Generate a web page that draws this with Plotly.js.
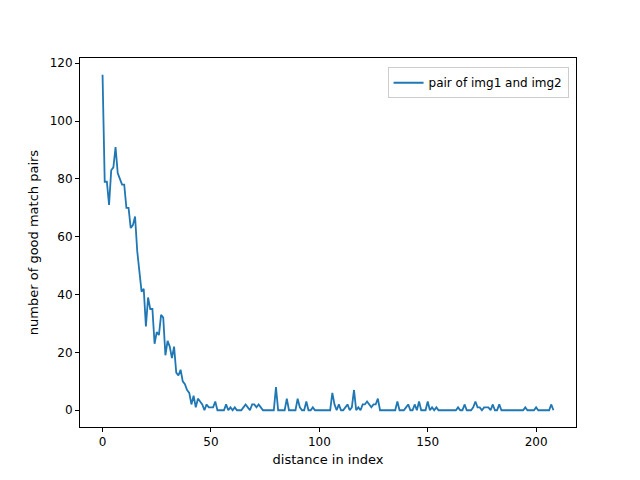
<!DOCTYPE html>
<html>
<head>
<meta charset="utf-8">
<script src="https://cdn.plot.ly/plotly-3.0.1.min.js"></script>
<style>body{margin:0}#plot{width:640px;height:480px}</style>
</head>
<body>
<div id="plot"></div>
<script>
// number of good matches at each index distance
const goodMatches = [
  116, 79, 79, 71, 83, 84, 91, 82, 80, 78,
  78, 70, 70, 63, 64, 67, 55, 48, 41, 42,
  29, 39, 35, 35, 23, 27, 26, 33, 32, 19,
  24, 22, 18, 22, 13, 12, 14, 10, 9, 7,
  6, 2, 5, 1, 4, 3, 2, 0, 2, 1,
  1, 1, 3, 0, 0, 0, 0, 2, 0, 1,
  0, 1, 0, 0, 0, 1, 2, 1, 0, 2,
  2, 1, 2, 1, 0, 0, 0, 0, 0, 0,
  8, 0, 0, 0, 0, 4, 0, 0, 0, 0,
  4, 1, 0, 0, 3, 0, 0, 1, 0, 0,
  0, 0, 0, 0, 0, 0, 6, 2, 0, 2,
  0, 0, 1, 2, 0, 1, 7, 0, 1, 0,
  2, 2, 3, 2, 1, 2, 2, 4, 0, 0,
  0, 0, 0, 0, 0, 0, 3, 0, 0, 0,
  1, 2, 0, 0, 2, 0, 3, 0, 0, 0,
  3, 0, 1, 0, 1, 0, 0, 0, 0, 0,
  0, 0, 0, 0, 1, 0, 0, 2, 0, 0,
  0, 1, 3, 1, 1, 0, 1, 1, 1, 0,
  2, 0, 0, 2, 0, 0, 0, 0, 0, 0,
  0, 0, 0, 0, 0, 1, 0, 0, 0, 0,
  1, 0, 0, 0, 0, 0, 0, 2, 0
];
const distance = goodMatches.map((_, i) => i);
const seriesName = 'pair of img1 and img2';

const axisStyle = {
  showgrid: false, zeroline: false, showline: true, mirror: true,
  linecolor: 'black', linewidth: 1, ticks: 'outside', ticklen: 4,
  tickcolor: 'black', tickfont: {size: 12, color: 'black'}
};

Plotly.newPlot('plot', [{
  x: distance,
  y: goodMatches,
  type: 'scatter',
  mode: 'lines',
  name: seriesName,
  line: {color: '#1f77b4', width: 1.8}
}], {
  width: 640, height: 480,
  margin: {l: 80, r: 64, t: 58, b: 53},
  paper_bgcolor: 'white', plot_bgcolor: 'white',
  font: {family: 'DejaVu Sans', color: 'black'},
  showlegend: true,
  legend: {x: 0.985, y: 0.975, xanchor: 'right', yanchor: 'top',
    bordercolor: '#cccccc', borderwidth: 1, font: {size: 12}},
  xaxis: Object.assign({}, axisStyle, {
    range: [-10.4, 218.4], tickvals: [0, 50, 100, 150, 200],
    title: {text: 'distance in index', font: {size: 13}, standoff: 6}
  }),
  yaxis: Object.assign({}, axisStyle, {
    range: [-5.8, 121.8], tickvals: [0, 20, 40, 60, 80, 100, 120],
    title: {text: 'number of good match pairs', font: {size: 13}, standoff: 8}
  })
}, {displayModeBar: false});
</script>
</body>
</html>
